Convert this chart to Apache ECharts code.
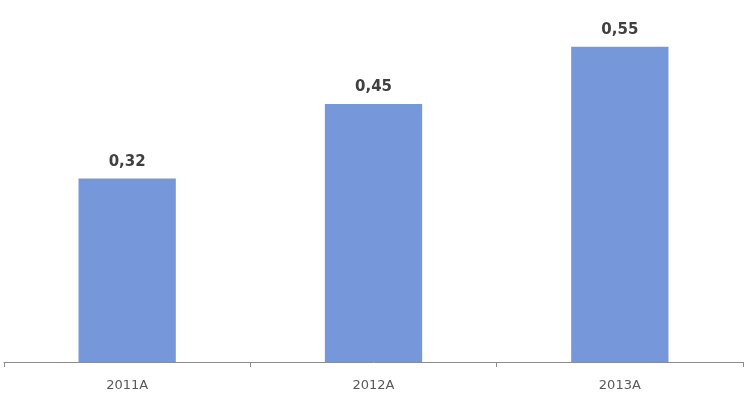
<!DOCTYPE html>
<html><head><meta charset="utf-8">
<script src="https://cdn.jsdelivr.net/npm/echarts@6/dist/echarts.min.js"></script>
<style>html,body{margin:0;padding:0;background:#fff}#c{width:750px;height:415px}</style>
</head><body><div id="c"></div>
<script>
const categories = ['2011A', '2012A', '2013A'];
const values = [0.32, 0.45, 0.55];

const chart = echarts.init(document.getElementById('c'));
chart.setOption({
  animation: false,
  backgroundColor: '#ffffff',
  grid: { left: 4, right: 7, top: 18, bottom: 53, containLabel: false },
  xAxis: {
    type: 'category',
    data: categories,
    axisLine: { lineStyle: { color: '#8c8c8c', width: 1 } },
    axisTick: { show: true, length: 5, lineStyle: { color: '#8c8c8c' } },
    axisLabel: { color: '#595959', fontFamily: 'DejaVu Sans', fontSize: 13, margin: 17 }
  },
  yAxis: {
    type: 'value', min: 0, max: 0.6, show: false,
    splitLine: { show: false }
  },
  series: [{
    type: 'bar',
    data: values,
    barWidth: '39.5%',
    itemStyle: { color: '#7698da' },
    label: {
      show: true, position: 'top', distance: 9,
      color: '#404040', fontWeight: 'bold', fontSize: 15, fontFamily: 'DejaVu Sans',
      formatter: p => p.value.toFixed(2).replace('.', ',')
    }
  }]
});
</script></body></html>
